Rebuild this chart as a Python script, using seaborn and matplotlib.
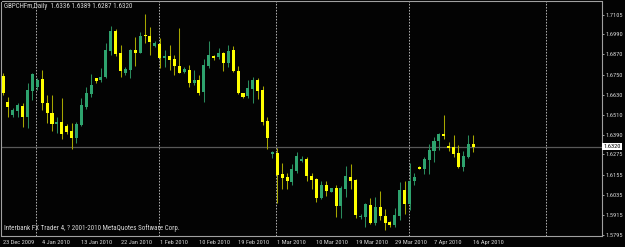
import matplotlib
matplotlib.use("Agg")
import matplotlib.pyplot as plt
from matplotlib import font_manager
import seaborn as sns

# ---------------- data ----------------
chart_title = "GBPCHFm,Daily  1.6336 1.6389 1.6287 1.6320"
footer_text = "Interbank FX Trader 4, ? 2001-2010 MetaQuotes Software Corp."

opens = [1.6742, 1.6589, 1.6510, 1.6535, 1.6563, 1.6496, 1.6654, 1.6674, 1.6724, 1.6583,
         1.6523, 1.6456, 1.6470, 1.6444, 1.6414, 1.6374, 1.6450, 1.6559, 1.6633, 1.6728,
         1.6718, 1.6734, 1.6892, 1.7012, 1.6880, 1.6758, 1.6777, 1.6897, 1.6880, 1.6988,
         1.6980, 1.6922, 1.6932, 1.6851, 1.6861, 1.6841, 1.6803, 1.6767, 1.6777, 1.6702,
         1.6718, 1.6648, 1.6803, 1.6863, 1.6853, 1.6877, 1.6821, 1.6897, 1.6773, 1.6639,
         1.6623, 1.6663, 1.6718, 1.6658, 1.6474, 1.6275, 1.6285, 1.6158, 1.6138, 1.6112,
         1.6178, 1.6237, 1.6247, 1.6146, 1.6127, 1.6013, 1.6093, 1.6053, 1.6077, 1.5968,
         1.6067, 1.6138, 1.6122, 1.5900, 1.5904, 1.5974, 1.5868, 1.5963, 1.5908, 1.5870,
         1.5857, 1.5908, 1.6063, 1.5980, 1.6116, 1.6202, 1.6188, 1.6241, 1.6297, 1.6355,
         1.6396, 1.6325, 1.6317, 1.6281, 1.6202, 1.6261, 1.6336]
highs = [1.6758, 1.6618, 1.6549, 1.6579, 1.6579, 1.6698, 1.6760, 1.6728, 1.6777, 1.6629,
         1.6629, 1.6499, 1.6609, 1.6456, 1.6460, 1.6470, 1.6609, 1.6678, 1.6754, 1.6732,
         1.6788, 1.6936, 1.7040, 1.7020, 1.6926, 1.6797, 1.6901, 1.6976, 1.7006, 1.7111,
         1.7032, 1.6952, 1.6966, 1.6897, 1.6926, 1.6867, 1.7026, 1.6797, 1.6807, 1.6777,
         1.6748, 1.6841, 1.6952, 1.6867, 1.6907, 1.6886, 1.6926, 1.6920, 1.6801, 1.6641,
         1.6718, 1.6734, 1.6728, 1.6682, 1.6499, 1.6297, 1.6311, 1.6222, 1.6162, 1.6218,
         1.6291, 1.6265, 1.6261, 1.6162, 1.6133, 1.6118, 1.6116, 1.6077, 1.6093, 1.6087,
         1.6206, 1.6218, 1.6128, 1.5920, 1.5984, 1.6017, 1.6019, 1.6059, 1.5948, 1.5880,
         1.5954, 1.6112, 1.6118, 1.6222, 1.6162, 1.6206, 1.6261, 1.6337, 1.6380, 1.6404,
         1.6510, 1.6347, 1.6390, 1.6331, 1.6297, 1.6390, 1.6389]
lows = [1.6629, 1.6498, 1.6499, 1.6499, 1.6440, 1.6430, 1.6599, 1.6658, 1.6539, 1.6460,
        1.6416, 1.6401, 1.6365, 1.6396, 1.6309, 1.6345, 1.6444, 1.6543, 1.6618, 1.6702,
        1.6708, 1.6728, 1.6867, 1.6861, 1.6738, 1.6748, 1.6728, 1.6801, 1.6877, 1.6940,
        1.6867, 1.6913, 1.6788, 1.6797, 1.6777, 1.6748, 1.6758, 1.6758, 1.6678, 1.6688,
        1.6629, 1.6589, 1.6788, 1.6837, 1.6841, 1.6773, 1.6797, 1.6767, 1.6635, 1.6613,
        1.6609, 1.6583, 1.6603, 1.6450, 1.6305, 1.6252, 1.5984, 1.6067, 1.6067, 1.6093,
        1.6162, 1.6231, 1.6116, 1.6067, 1.5993, 1.6007, 1.6027, 1.6049, 1.5904, 1.5894,
        1.6019, 1.6067, 1.5894, 1.5888, 1.5844, 1.5860, 1.5854, 1.5884, 1.5825, 1.5841,
        1.5844, 1.5884, 1.5920, 1.5944, 1.6093, 1.6186, 1.6156, 1.6156, 1.6231, 1.6301,
        1.6365, 1.6297, 1.6261, 1.6196, 1.6176, 1.6252, 1.6287]
closes = [1.6639, 1.6559, 1.6539, 1.6566, 1.6496, 1.6658, 1.6754, 1.6718, 1.6579, 1.6523,
          1.6456, 1.6470, 1.6395, 1.6406, 1.6374, 1.6456, 1.6566, 1.6639, 1.6688, 1.6712,
          1.6738, 1.6897, 1.7012, 1.6873, 1.6773, 1.6783, 1.6897, 1.6880, 1.6980, 1.6980,
          1.6946, 1.6940, 1.6847, 1.6863, 1.6837, 1.6801, 1.6761, 1.6783, 1.6702, 1.6718,
          1.6642, 1.6807, 1.6867, 1.6847, 1.6880, 1.6821, 1.6892, 1.6771, 1.6639, 1.6618,
          1.6669, 1.6718, 1.6654, 1.6470, 1.6374, 1.6291, 1.6152, 1.6136, 1.6116, 1.6186,
          1.6265, 1.6249, 1.6146, 1.6122, 1.6017, 1.6093, 1.6059, 1.6073, 1.5968, 1.6073,
          1.6146, 1.6118, 1.5914, 1.5910, 1.5978, 1.5868, 1.5963, 1.5908, 1.5869, 1.5854,
          1.5914, 1.6063, 1.5980, 1.6118, 1.6138, 1.6188, 1.6247, 1.6301, 1.6356, 1.6395,
          1.6384, 1.6313, 1.6277, 1.6202, 1.6265, 1.6337, 1.6320]

date_labels = ["23 Dec 2009", "4 Jan 2010", "13 Jan 2010", "22 Jan 2010", "1 Feb 2010",
               "10 Feb 2010", "19 Feb 2010", "1 Mar 2010", "10 Mar 2010", "19 Mar 2010",
               "29 Mar 2010", "7 Apr 2010", "16 Apr 2010"]
date_label_bars = [0, 8, 16, 24, 32, 40, 48, 56, 64, 72, 80, 88, 96]
month_start_bars = [7, 32, 56, 83, 111]
price_ticks = [1.7105, 1.6990, 1.6870, 1.6750, 1.6630, 1.6510, 1.6390, 1.6275,
               1.6155, 1.6035, 1.5915, 1.5795]
current_price = 1.6320

# ---------------- style ----------------
sns.set_theme(style="dark", rc={
    "axes.facecolor": "#030303",
    "figure.facecolor": "#030303",
    "axes.edgecolor": "#a0a0a0",
    "text.color": "#d8d8d8",
    "xtick.color": "#a0a0a0",
    "ytick.color": "#a0a0a0",
    "xtick.labelcolor": "#d8d8d8",
    "ytick.labelcolor": "#d8d8d8",
})

avail = {f.name for f in font_manager.fontManager.ttflist}
font_choice = "DejaVu Sans"
for cand in ["Liberation Sans Narrow", "DejaVu Sans Condensed", "Roboto Condensed", "Liberation Sans"]:
    if cand in avail:
        font_choice = cand
        break
plt.rcParams["font.family"] = [font_choice, "DejaVu Sans"]
FS = 4.6
FS_TXT = 5.0

BULL = "#2ea36e"
BEAR = "#ffff00"
BULL_WICK = "#2a8a5c"
BEAR_WICK = "#a6a600"

W, H = 625, 247
fig = plt.figure(figsize=(W / 100, H / 100), dpi=100)
left_px, right_px, top_px, bot_px = 1.5, 602, 1.5, 236
ax = fig.add_axes([left_px / W, (H - bot_px) / H, (right_px - left_px) / W, (bot_px - top_px) / H])

n = len(opens)
xs = list(range(n))

# month separators and current price line
for b in month_start_bars:
    ax.axvline(b - 0.2, color="#a8a8a8", lw=0.72, ls=(0, (1.6, 1.4)), zorder=1)
ax.axhline(current_price, color="#585858", lw=0.9, zorder=1)

# wicks
wick_cols = [BULL_WICK if c >= o else BEAR_WICK for o, c in zip(opens, closes)]
ax.vlines(xs, lows, highs, colors=wick_cols, lw=0.75, zorder=2)

# bodies
body_bottom = [min(o, c) for o, c in zip(opens, closes)]
body_h = [max(abs(c - o), 0.0006) for o, c in zip(opens, closes)]
body_cols = [BULL if c >= o else BEAR for o, c in zip(opens, closes)]
ax.bar(xs, body_h, bottom=body_bottom, width=0.62, color=body_cols, linewidth=0, zorder=3)

ax.set_xlim(-0.31, 122.3)
ax.set_ylim(1.5789, 1.7185)

# axes styling
for s in ax.spines.values():
    s.set_linewidth(0.8)
    s.set_color("#a0a0a0")
ax.grid(False)

ax.yaxis.tick_right()
ax.set_yticks(price_ticks)
ax.set_yticklabels([f"{v:.4f}" for v in price_ticks])
ax.tick_params(axis="y", direction="out", length=1.6, width=0.7, pad=1.2, labelsize=FS)

ax.set_xticks(date_label_bars)
ax.set_xticklabels(date_labels)
ax.tick_params(axis="x", direction="out", length=2.0, width=0.7, pad=0.8, labelsize=FS)
for lab in ax.get_xticklabels():
    lab.set_ha("left")

# texts
fig.text(3.5 / W, 1 - 6 / H, chart_title, fontsize=FS_TXT,
         color="#d8d8d8", va="center", ha="left")
fig.text(4 / W, 1 - 228.5 / H, footer_text, fontsize=FS_TXT, color="#d8d8d8",
         va="center", ha="left")

# current price marker
ax.text(1.0025, current_price, f"{current_price:.4f}", transform=ax.get_yaxis_transform(),
        fontsize=FS, color="black", va="center", ha="left", zorder=5,
        bbox=dict(boxstyle="square,pad=0.18", fc="white", ec="white", lw=0))

fig.savefig("out.png", dpi=100, facecolor=fig.get_facecolor())
